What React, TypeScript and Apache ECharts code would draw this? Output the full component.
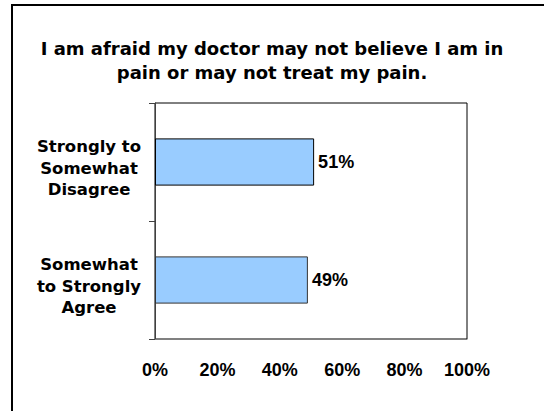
import React, { useEffect, useRef } from "react";
import * as echarts from "echarts";

const titleText = "I am afraid my doctor may not believe I am in\npain or may not treat my pain.";
const categories = ["Strongly to\nSomewhat\nDisagree", "Somewhat\nto Strongly\nAgree"];
const values = [51, 49];
const barBorders = ["#000000", "#333333"];
const xTicks = [0, 20, 40, 60, 80, 100];

export default function App() {
  const ref = useRef<HTMLDivElement>(null);
  useEffect(() => {
    if (!ref.current) return;
    const chart = echarts.init(ref.current, null, { renderer: "svg" });
    const labelFont = "'DejaVu Sans', sans-serif";
    const numFont = "'Liberation Sans', Arial, sans-serif";
    const catStyle = {
      fontFamily: labelFont,
      fontWeight: "bold",
      fontSize: 16.5,
      lineHeight: 21.5,
      color: "#000",
      align: "center",
    };
    chart.setOption({
      animation: false,
      backgroundColor: "#ffffff",
      title: {
        text: titleText,
        left: "center",
        top: 31,
        textStyle: {
          fontFamily: labelFont,
          fontSize: 18,
          fontWeight: "bold",
          color: "#000",
          lineHeight: 24.5,
        },
      },
      graphic: [
        {
          type: "rect",
          shape: { x: 12, y: 5, width: 600, height: 500 },
          style: { fill: "none", stroke: "#000", lineWidth: 2 },
          silent: true,
        },
      ],
      grid: {
        left: 155,
        right: 77,
        top: 103,
        bottom: 72,
        show: true,
        borderColor: "#000",
        borderWidth: 1,
        backgroundColor: "transparent",
      },
      xAxis: {
        type: "value",
        min: xTicks[0],
        max: xTicks[xTicks.length - 1],
        interval: 20,
        axisLine: { show: true, lineStyle: { color: "#808080", width: 1 } },
        axisTick: { show: false },
        splitLine: { show: false },
        axisLabel: {
          formatter: "{value}%",
          margin: 22,
          color: "#000",
          fontFamily: numFont,
          fontWeight: "bold",
          fontSize: 18,
        },
      },
      yAxis: {
        type: "category",
        inverse: true,
        data: categories,
        axisLine: { show: true, lineStyle: { color: "#404040", width: 1 } },
        axisTick: { show: true, length: 6, inside: false, lineStyle: { color: "#404040" } },
        axisLabel: {
          margin: 66,
          align: "center",
          color: "#000",
          fontFamily: labelFont,
          fontWeight: "bold",
          fontSize: 16.5,
          lineHeight: 21.5,
          formatter: (v: string) =>
            "{s| }\n" + v.split("\n").map((l) => `{c|${l}}`).join("\n"),
          rich: {
            s: { lineHeight: 12, fontSize: 1, align: "center" },
            c: catStyle,
          },
        },
      },
      series: [
        {
          type: "bar",
          data: values.map((v, i) => ({
            value: v,
            itemStyle: { borderColor: barBorders[i] },
          })),
          barCategoryGap: "60%",
          itemStyle: { color: "#99ccff", borderWidth: 1 },
          label: {
            show: true,
            position: "right",
            distance: 4,
            formatter: "{c}%",
            color: "#000",
            fontFamily: numFont,
            fontWeight: "bold",
            fontSize: 18,
          },
        },
      ],
    });
    return () => chart.dispose();
  }, []);
  return (
    <div
      ref={ref}
      style={{ position: "fixed", left: 0, top: 0, width: 544, height: 411 }}
    />
  );
}
